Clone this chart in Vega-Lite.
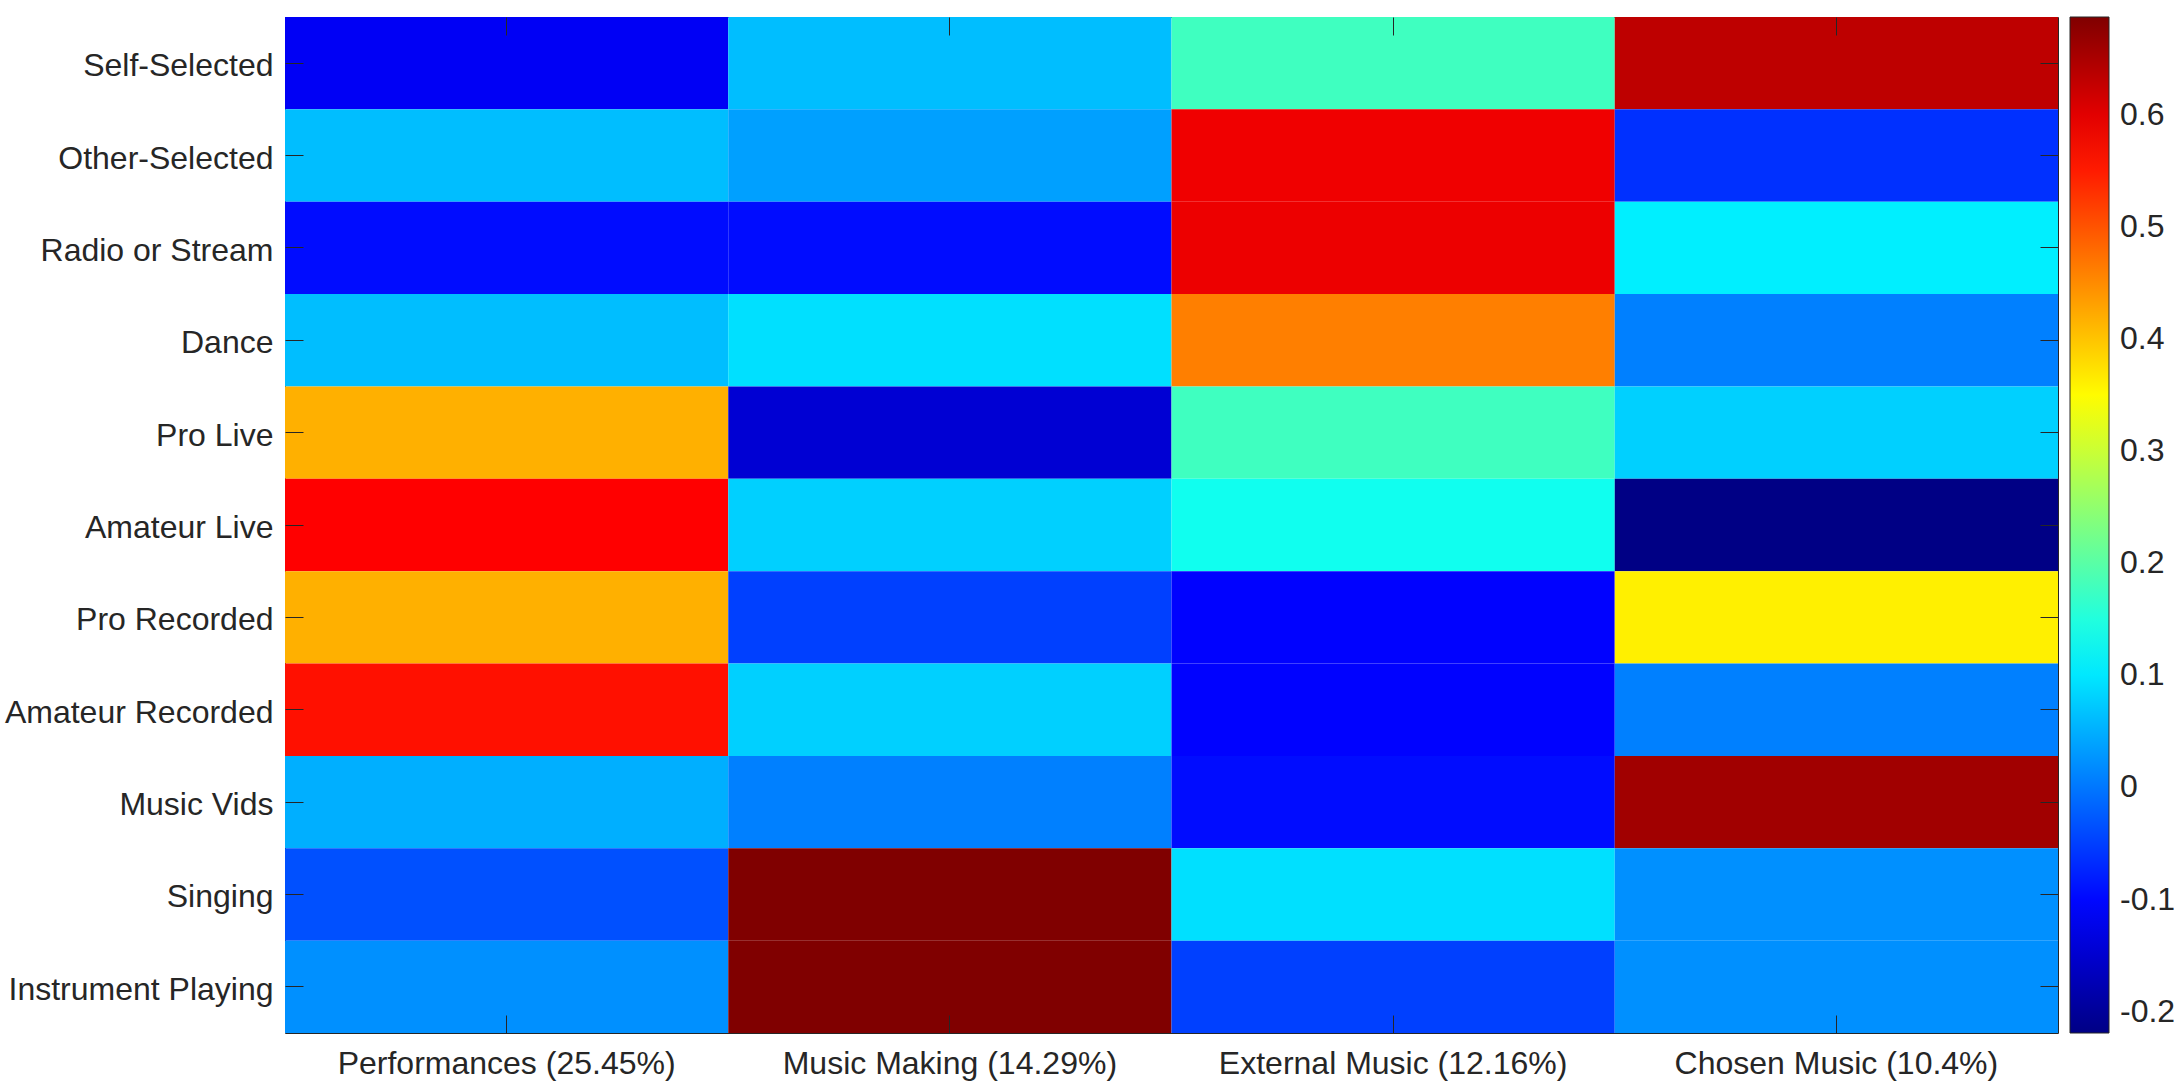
{
  "$schema": "https://vega.github.io/schema/vega-lite/v6.json",
  "width": 1773,
  "height": 1016,
  "autosize": {"type": "none"},
  "padding": {"left": 285, "top": 17, "right": 116, "bottom": 53},
  "background": "white",
  "config": {
    "view": {"stroke": "#262626", "strokeWidth": 1},
    "font": "Liberation Sans",
    "axis": {"domain": false, "grid": false, "tickColor": "#262626", "tickWidth": 1, "labelColor": "#262626", "labelFontSize": 32, "labelFont": "Liberation Sans", "labelLimit": 0}
  },
  "data": {
    "values": [
      {"row": "Self-Selected", "col": "Performances (25.45%)", "value": -0.115},
      {"row": "Self-Selected", "col": "Music Making (14.29%)", "value": 0.063},
      {"row": "Self-Selected", "col": "External Music (12.16%)", "value": 0.177},
      {"row": "Self-Selected", "col": "Chosen Music (10.4%)", "value": 0.632},
      {"row": "Other-Selected", "col": "Performances (25.45%)", "value": 0.063},
      {"row": "Other-Selected", "col": "Music Making (14.29%)", "value": 0.036},
      {"row": "Other-Selected", "col": "External Music (12.16%)", "value": 0.587},
      {"row": "Other-Selected", "col": "Chosen Music (10.4%)", "value": -0.063},
      {"row": "Radio or Stream", "col": "Performances (25.45%)", "value": -0.095},
      {"row": "Radio or Stream", "col": "Music Making (14.29%)", "value": -0.095},
      {"row": "Radio or Stream", "col": "External Music (12.16%)", "value": 0.59},
      {"row": "Radio or Stream", "col": "Chosen Music (10.4%)", "value": 0.107},
      {"row": "Dance", "col": "Performances (25.45%)", "value": 0.063},
      {"row": "Dance", "col": "Music Making (14.29%)", "value": 0.093},
      {"row": "Dance", "col": "External Music (12.16%)", "value": 0.461},
      {"row": "Dance", "col": "Chosen Music (10.4%)", "value": 0.0075},
      {"row": "Pro Live", "col": "Performances (25.45%)", "value": 0.4175},
      {"row": "Pro Live", "col": "Music Making (14.29%)", "value": -0.147},
      {"row": "Pro Live", "col": "External Music (12.16%)", "value": 0.177},
      {"row": "Pro Live", "col": "Chosen Music (10.4%)", "value": 0.079},
      {"row": "Amateur Live", "col": "Performances (25.45%)", "value": 0.574},
      {"row": "Amateur Live", "col": "Music Making (14.29%)", "value": 0.079},
      {"row": "Amateur Live", "col": "External Music (12.16%)", "value": 0.135},
      {"row": "Amateur Live", "col": "Chosen Music (10.4%)", "value": -0.219},
      {"row": "Pro Recorded", "col": "Performances (25.45%)", "value": 0.4175},
      {"row": "Pro Recorded", "col": "Music Making (14.29%)", "value": -0.049},
      {"row": "Pro Recorded", "col": "External Music (12.16%)", "value": -0.104},
      {"row": "Pro Recorded", "col": "Chosen Music (10.4%)", "value": 0.361},
      {"row": "Amateur Recorded", "col": "Performances (25.45%)", "value": 0.5595},
      {"row": "Amateur Recorded", "col": "Music Making (14.29%)", "value": 0.079},
      {"row": "Amateur Recorded", "col": "External Music (12.16%)", "value": -0.104},
      {"row": "Amateur Recorded", "col": "Chosen Music (10.4%)", "value": 0.0075},
      {"row": "Music Vids", "col": "Performances (25.45%)", "value": 0.05},
      {"row": "Music Vids", "col": "Music Making (14.29%)", "value": 0.0075},
      {"row": "Music Vids", "col": "External Music (12.16%)", "value": -0.095},
      {"row": "Music Vids", "col": "Chosen Music (10.4%)", "value": 0.658},
      {"row": "Singing", "col": "Performances (25.45%)", "value": -0.035},
      {"row": "Singing", "col": "Music Making (14.29%)", "value": 0.687},
      {"row": "Singing", "col": "External Music (12.16%)", "value": 0.093},
      {"row": "Singing", "col": "Chosen Music (10.4%)", "value": 0.022},
      {"row": "Instrument Playing", "col": "Performances (25.45%)", "value": 0.022},
      {"row": "Instrument Playing", "col": "Music Making (14.29%)", "value": 0.687},
      {"row": "Instrument Playing", "col": "External Music (12.16%)", "value": -0.049},
      {"row": "Instrument Playing", "col": "Chosen Music (10.4%)", "value": 0.022}
    ]
  },
  "layer": [
    {
      "mark": {"type": "rect", "strokeWidth": 0},
      "encoding": {
        "x": {
          "field": "col", "type": "nominal",
          "scale": {"domain": ["Performances (25.45%)", "Music Making (14.29%)", "External Music (12.16%)", "Chosen Music (10.4%)"], "paddingInner": 0, "paddingOuter": 0},
          "axis": {"orient": "bottom", "title": null, "labelAngle": 0, "tickSize": -18, "labelPadding": 33}
        },
        "y": {
          "field": "row", "type": "nominal",
          "scale": {"domain": ["Self-Selected", "Other-Selected", "Radio or Stream", "Dance", "Pro Live", "Amateur Live", "Pro Recorded", "Amateur Recorded", "Music Vids", "Singing", "Instrument Playing"], "paddingInner": 0, "paddingOuter": 0},
          "axis": {"orient": "left", "title": null, "tickSize": -18, "labelPadding": 30, "labelOffset": 3}
        },
        "color": {
          "field": "value", "type": "quantitative",
          "scale": {
            "domain": [-0.219, -0.1058, 0.1208, 0.3473, 0.5738, 0.687],
            "range": ["#000085", "#0000ff", "#00ffff", "#ffff00", "#ff0000", "#800000"],
            "interpolate": "rgb"
          },
          "legend": {
            "orient": "right", "offset": 11, "title": null, "direction": "vertical",
            "gradientLength": 1016, "gradientThickness": 39,
            "values": [-0.2, -0.1, 0, 0.1, 0.2, 0.3, 0.4, 0.5, 0.6],
            "labelExpr": "datum.value < 0 ? '-' + format(-datum.value, '.1~f') : format(datum.value, '.1~f')",
            "labelFontSize": 32, "labelColor": "#262626", "labelFont": "Liberation Sans",
            "labelOffset": 11, "labelOverlap": false, "labelLimit": 0,
            "gradientStrokeColor": "#262626", "gradientStrokeWidth": 1,
            "padding": 0
          }
        }
      }
    },
    {
      "mark": {"type": "rect", "opacity": 0},
      "encoding": {
        "x": {"field": "col", "type": "nominal", "axis": {"orient": "top", "title": null, "labels": false, "tickSize": -18}},
        "y": {"field": "row", "type": "nominal", "axis": {"orient": "right", "title": null, "labels": false, "tickSize": -18}}
      }
    }
  ],
  "resolve": {"axis": {"x": "independent", "y": "independent"}}
}
